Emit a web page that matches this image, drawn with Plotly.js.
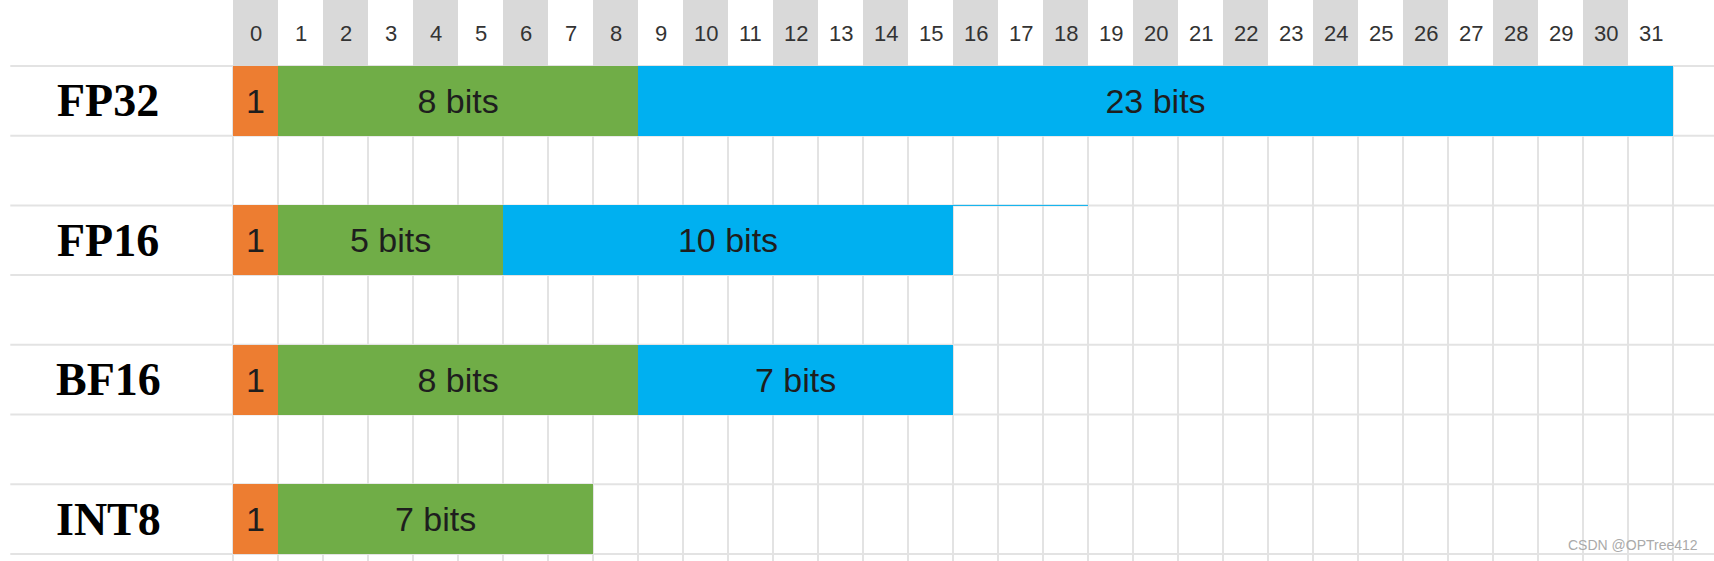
<!DOCTYPE html>
<html>
<head>
<meta charset="utf-8">
<script src="https://cdn.plot.ly/plotly-3.0.1.min.js"></script>
<style>html,body{margin:0;padding:0;background:#fff;}#chart{width:1714px;height:561px;}</style>
</head>
<body>
<div id="chart"></div>
<script>
// Bit layouts of number formats
const formats = ['FP32', 'FP16', 'BF16', 'INT8'];
const formatRows = [0, 2, 4, 6];
const signBits = [1, 1, 1, 1];
const exponentBits = [8, 5, 8, 7];
const mantissaBits = [23, 10, 7, 0];
const bitIndex = Array.from({ length: 32 }, (_, i) => i);

const ORANGE = '#ED7D31', GREEN = '#70AD47', BLUE = '#00B0F0';
const GRID = '#e3e3e3';

function segTrace(lengths, bases, color) {
  const idx = lengths.map((l, i) => i).filter((i) => lengths[i] > 0);
  return {
    type: 'bar', orientation: 'h',
    y: idx.map((i) => formatRows[i] + 0.5),
    x: idx.map((i) => lengths[i]),
    base: idx.map((i) => bases[i]),
    width: 1,
    marker: { color, line: { width: 0 } },
    text: idx.map((i) => lengths[i] === 1 ? '1' : `${lengths[i]} bits`),
    textposition: 'inside', insidetextanchor: 'middle', constraintext: 'none',
    textfont: { family: 'Liberation Sans, Arial, sans-serif', size: 34, color: '#1e1e1e' },
    hoverinfo: 'skip', showlegend: false,
  };
}

const traces = [
  // grey header cells on even bit indices
  {
    type: 'bar', orientation: 'h',
    y: bitIndex.filter((b) => b % 2 === 0).map(() => -0.4735),
    x: bitIndex.filter((b) => b % 2 === 0).map(() => 1),
    base: bitIndex.filter((b) => b % 2 === 0),
    width: 0.947, marker: { color: '#d9d9d9', line: { width: 0 } },
    hoverinfo: 'skip', showlegend: false,
  },
  segTrace(signBits, signBits.map(() => 0), ORANGE),
  segTrace(exponentBits, signBits, GREEN),
  segTrace(mantissaBits, signBits.map((s, i) => s + exponentBits[i]), BLUE),
];

const shapes = [];
// vertical grid lines from the header down
for (let c = 0; c <= 32; c++) {
  shapes.push({ type: 'line', xref: 'x', yref: 'y', x0: c, x1: c, y0: 0, y1: 7.2,
    line: { color: GRID, width: 2 }, layer: 'below' });
}
// horizontal grid lines
for (let r = 0; r <= 7; r++) {
  shapes.push({ type: 'line', xref: 'paper', yref: 'y', x0: 0.006, x1: 1, y0: r, y1: r,
    line: { color: GRID, width: 2 }, layer: 'below' });
}
shapes.push({ type: 'line', xref: 'x', yref: 'y', x0: 16, x1: 19, y0: 2, y1: 2,
  line: { color: BLUE, width: 1 } });

const annotations = bitIndex.map((b) => ({
  x: b + 0.5, y: -0.47, xref: 'x', yref: 'y', text: String(b), showarrow: false,
  font: { family: 'Liberation Sans, Arial, sans-serif', size: 22, color: '#333' },
}));
formats.forEach((f, i) => annotations.push({
  x: 108, xref: 'paper', xanchor: 'center', y: formatRows[i] + 0.5, yref: 'y',
  text: `<b>${f}</b>`, showarrow: false,
  font: { family: 'Liberation Serif, Times New Roman, serif', size: 46, color: '#000' },
}));
annotations[annotations.length - 4].x = 108 / 1714;
annotations[annotations.length - 3].x = 108 / 1714;
annotations[annotations.length - 2].x = 108 / 1714;
annotations[annotations.length - 1].x = 108 / 1714;
annotations.push({
  x: 1700 / 1714, xref: 'paper', xanchor: 'right', y: 545 / 561, yref: 'paper', yanchor: 'middle',
  text: 'CSDN @OPTree412', showarrow: false,
  font: { family: 'Liberation Sans, Arial, sans-serif', size: 14, color: '#aaa' },
});
annotations[annotations.length - 1].y = 1 - 545 / 561;

const colW = 45, rowH = 69.7, x0px = 233, y0px = 66;
const layout = {
  width: 1714, height: 561,
  margin: { l: 0, r: 0, t: 0, b: 0 },
  paper_bgcolor: '#fff', plot_bgcolor: '#fff',
  barmode: 'overlay', bargap: 0,
  xaxis: { range: [-x0px / colW, (1714 - x0px) / colW], visible: false, fixedrange: true },
  yaxis: { range: [(561 - y0px) / rowH, -y0px / rowH], visible: false, fixedrange: true },
  shapes, annotations,
};

Plotly.newPlot('chart', traces, layout, { displayModeBar: false, staticPlot: true });
</script>
</body>
</html>
